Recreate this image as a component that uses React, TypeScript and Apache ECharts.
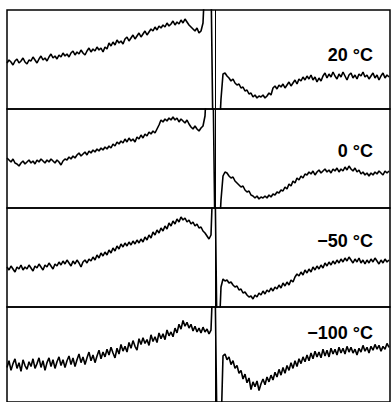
import React, { useEffect, useRef } from "react";
import * as echarts from "echarts";

// sample spacing (px of the x axis) and labels
const STEP = 2;
const labels = ["20 °C", "0 °C", "−50 °C", "−100 °C"];

// values = height above panel bottom (panel height 99); >99 or <0 are clipped
const trace20 = [
  46, 49, 47, 44, 48, 50, 46, 48, 51, 47,
  45, 49, 48, 52, 49, 46, 50, 53, 49, 51,
  48, 52, 55, 51, 53, 50, 54, 52, 56, 53,
  55, 52, 56, 58, 54, 57, 55, 59, 56, 54,
  58, 61, 57, 60, 58, 62, 59, 61, 57, 62,
  60, 66, 63, 67, 64, 69, 66, 68, 65, 70,
  72, 68, 71, 74, 70, 73, 76, 72, 75, 78,
  74, 77, 80, 78, 82, 79, 83, 81, 84, 82,
  86, 83, 85, 88, 84, 87, 85, 89, 86, 90,
  87, 84, 82, 80, 78, 81, 76, 78, 86,
  130, 130, 130, 130, -30, -30, -30, -30, 10, 35, 36,
  33, 31, 28, 30, 26, 24, 25, 21, 22, 18,
  19, 15, 16, 12, 14, 11, 13, 12, 14, 11,
  13, 16, 14, 21, 23, 20, 24, 22, 25, 21,
  24, 27, 23, 26, 29, 25, 30, 28, 32, 29,
  33, 30, 34, 29, 32, 27, 31, 28, 33, 36,
  31, 35, 32, 37, 33, 30, 35, 32, 37, 33,
  29, 34, 36, 31, 34, 30, 35, 33, 37, 32,
  34, 30, 33, 36, 31, 34, 29, 33, 36, 31,
  34, 32,
];
const trace0 = [
  50, 48, 46, 49, 45, 44, 42, 45, 47, 44,
  46, 48, 45, 47, 44, 48, 46, 49, 47, 45,
  48, 46, 49, 47, 45, 48, 46, 43, 47, 49,
  48, 51, 49, 52, 50, 53, 55, 52, 54, 56,
  53, 57, 55, 58, 56, 59, 57, 60, 58, 61,
  59, 62, 60, 64, 62, 66, 64, 67, 65, 69,
  66, 70, 67, 69, 66, 71, 69, 73, 70, 74,
  72, 76, 74, 77, 75, 79, 83, 88, 86, 89,
  87, 90, 88, 91, 88, 90, 86, 89, 87, 85,
  88, 84, 81, 79, 82, 79, 77, 80, 82,
  92, 130, 130, 130, 130, -30, -30, -30, 8, 32, 36,
  35, 32, 30, 31, 27, 25, 23, 21, 22, 18,
  16, 17, 13, 12, 10, 12, 9, 11, 10, 12,
  10, 13, 11, 14, 13, 16, 15, 18, 17, 21,
  19, 24, 22, 27, 25, 30, 28, 32, 30, 34,
  33, 36, 34, 37, 33, 36, 38, 35, 37, 39,
  36, 38, 35, 39, 37, 40, 36, 39, 37, 41,
  38, 42, 39, 37, 40, 36, 38, 34, 36, 33,
  35, 32, 35, 33, 36, 34, 37, 35, 33, 37,
  35, 37,
];
const traceM50 = [
  40, 37, 41, 38, 35, 40, 38, 42, 37, 40,
  38, 42, 39, 36, 41, 39, 43, 40, 37, 42,
  40, 44, 41, 38, 43, 41, 45, 42, 46, 43,
  47, 44, 41, 46, 43, 47, 44, 40, 45, 47,
  44, 48, 46, 50, 47, 52, 49, 54, 51, 55,
  52, 57, 54, 59, 56, 61, 58, 63, 60, 64,
  61, 65, 62, 66, 63, 67, 64, 68, 65, 70,
  67, 72, 69, 75, 72, 77, 74, 79, 76, 81,
  78, 84, 81, 86, 83, 88, 85, 90, 87, 89,
  85, 87, 83, 85, 81, 83, 79, 80, 76,
  74, 71, 68, 72, 130, 130, -30, -30, 20, 28, 26,
  27, 24, 25, 22, 20, 21, 17, 18, 14, 15,
  12, 10, 11, 8, 12, 10, 14, 12, 16, 13,
  17, 15, 19, 16, 20, 18, 22, 19, 24, 21,
  25, 22, 27, 25, 30, 33, 31, 35, 32, 37,
  34, 38, 35, 40, 37, 41, 38, 42, 39, 44,
  41, 45, 42, 46, 43, 47, 44, 48, 45, 49,
  46, 50, 47, 44, 48, 45, 49, 44, 47, 43,
  47, 44, 48, 45, 49, 46, 43, 47, 44, 48,
  45, 47,
];
const traceM100 = [
  36, 43, 33, 40, 45, 35, 41, 32, 44, 38,
  34, 42, 37, 45, 35, 40, 46, 36, 43, 33,
  41, 46, 37, 44, 35, 42, 47, 38, 44, 36,
  43, 48, 39, 46, 37, 44, 50, 41, 47, 39,
  46, 52, 43, 49, 41, 48, 54, 45, 52, 47,
  55, 49, 57, 51, 46, 56, 50, 60, 53, 58,
  52, 62, 56, 64, 58, 54, 66, 60, 67, 61,
  65, 59, 70, 63, 68, 62, 72, 66, 71, 65,
  75, 69, 73, 68, 77, 72, 81, 76, 85, 79,
  83, 77, 81, 74, 79, 73, 77, 72, 78,
  73, 76, 71, 75, 130, 130, -30, -30, -30, 48, 50,
  44, 47, 39, 43, 35, 38, 30, 33, 24, 29,
  20, 25, 13, 21, 16, 22, 12, 19, 24, 18,
  26, 21, 28, 23, 31, 26, 34, 28, 36, 30,
  38, 33, 41, 35, 43, 37, 45, 40, 47, 42,
  49, 43, 51, 45, 53, 47, 52, 46, 55, 48,
  54, 47, 56, 50, 55, 49, 57, 51, 56, 50,
  58, 52, 57, 51, 55, 49, 56, 52, 59, 53,
  57, 51, 58, 54, 60, 55, 59, 53, 58, 55,
  61, 57,
];
const traces = [trace20, trace0, traceM50, traceM100];

const PANEL_TOPS = [10, 109, 208, 307];
const PANEL_H = 99;
const LABEL_Y = [55, 151, 241, 333];
const CENTER_X = 208.5;

export default function App() {
  const ref = useRef<HTMLDivElement>(null);
  useEffect(() => {
    document.body.style.margin = "0";
    const chart = echarts.init(ref.current!, null, { renderer: "svg" });
    const grid = PANEL_TOPS.map((t) => ({
      left: 7,
      width: 383,
      top: t,
      height: PANEL_H,
      show: true,
      borderColor: "#000",
      borderWidth: 1.5,
      backgroundColor: "transparent",
    }));
    const xAxis = traces.map((_, i) => ({
      type: "value" as const,
      gridIndex: i,
      min: 0,
      max: 383,
      show: false,
    }));
    const yAxis = traces.map((_, i) => ({
      type: "value" as const,
      gridIndex: i,
      min: 0,
      max: PANEL_H,
      show: false,
    }));
    const series = traces.map((tr, i) => ({
      type: "line" as const,
      xAxisIndex: i,
      yAxisIndex: i,
      data: tr.map((v, k) => [k * STEP, v]),
      showSymbol: false,
      symbol: "none",
      clip: true,
      lineStyle: { color: "#000", width: 1.6 },
      markLine: {
        silent: true,
        symbol: "none",
        label: { show: false },
        lineStyle: { color: "#000", width: 1, type: "solid" as const },
        data: [{ xAxis: CENTER_X }],
      },
    }));
    const graphic = labels.map((txt, i) => ({
      type: "text",
      x: 373,
      y: LABEL_Y[i],
      style: {
        text: txt,
        fill: "#000",
        font: "bold 18px 'Liberation Sans', Arial, sans-serif",
        textAlign: "right",
        textVerticalAlign: "middle",
      },
    }));
    chart.setOption({
      animation: false,
      backgroundColor: "#fff",
      grid,
      xAxis,
      yAxis,
      series,
      graphic,
    });
    return () => chart.dispose();
  }, []);
  return <div ref={ref} style={{ width: 391, height: 402 }} />;
}
